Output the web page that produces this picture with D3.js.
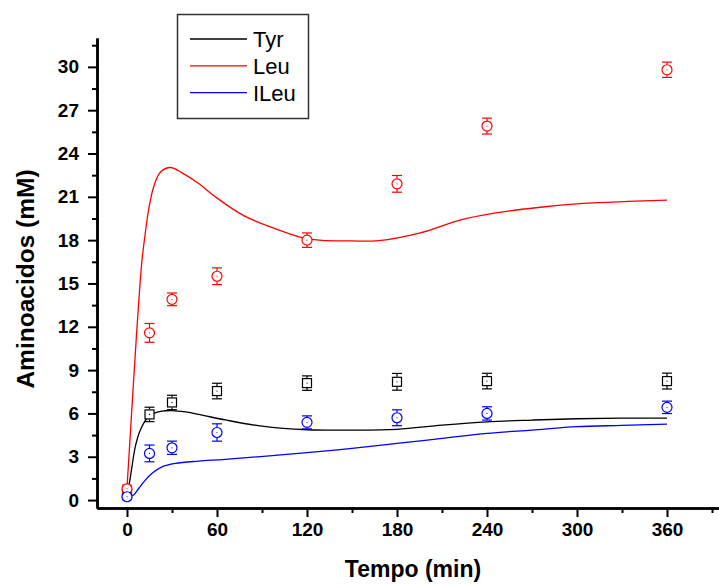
<!DOCTYPE html>
<html><head><meta charset="utf-8">
<script src="https://cdn.jsdelivr.net/npm/d3@7"></script>
<style>body{margin:0;background:#fff;} svg{display:block;}</style>
</head><body>
<script>
// ---- data ----
const times = [0, 15, 30, 60, 120, 180, 240, 360];
const tyrObs = [0.45, 5.93, 6.76, 7.55, 8.1, 8.19, 8.24, 8.24];
const tyrErr = [0.2, 0.5, 0.5, 0.54, 0.5, 0.58, 0.54, 0.55];
const leuObs = [0.78, 11.58, 13.9, 15.5, 18.0, 21.9, 25.9, 29.8];
const leuErr = [0.25, 0.65, 0.44, 0.58, 0.5, 0.58, 0.55, 0.53];
const ileuObs = [0.23, 3.23, 3.62, 4.68, 5.38, 5.7, 6.0, 6.42];
const ileuErr = [0.2, 0.58, 0.46, 0.6, 0.45, 0.55, 0.46, 0.43];

const leuFitT = [0, 2, 4, 6, 8, 10, 12.2, 14.4, 17.8, 22.2, 28.9, 36.7, 47.8, 58.9, 77.8, 100, 117.8, 130, 150, 166, 195.6, 222, 244, 274, 304, 334, 360];
const leuFitV = [0.85, 4.2, 7.6, 10.9, 14.0, 16.6, 18.5, 20.1, 21.7, 22.7, 23.03, 22.66, 21.92, 21.0, 19.7, 18.75, 18.15, 17.98, 17.95, 17.95, 18.51, 19.39, 19.85, 20.26, 20.54, 20.68, 20.77];
const tyrFitT = [0, 1.1, 3.3, 5.5, 8.9, 13.3, 17.8, 23.3, 30, 38.9, 50, 65.5, 90, 120, 150, 180, 210, 240, 270, 300, 330, 360];
const tyrFitV = [0.55, 0.92, 2.3, 3.69, 4.85, 5.65, 6.0, 6.16, 6.2, 6.1, 5.88, 5.55, 5.12, 4.87, 4.84, 4.9, 5.19, 5.42, 5.54, 5.63, 5.67, 5.68];
const ileuFitT = [0, 1.1, 4.4, 7.8, 12.2, 16.7, 23.3, 32.2, 47.8, 65.5, 120, 150, 180, 210, 240, 270, 300, 330, 360];
const ileuFitV = [0.2, 0.23, 0.35, 0.8, 1.38, 1.85, 2.3, 2.54, 2.7, 2.82, 3.28, 3.58, 3.92, 4.27, 4.62, 4.85, 5.08, 5.17, 5.26];

const xTicks = [0, 60, 120, 180, 240, 300, 360];
const xMinor = [30, 90, 150, 210, 270, 330, 390];
const yTicks = [0, 3, 6, 9, 12, 15, 18, 21, 24, 27, 30];
const yMinor = [1.5, 4.5, 7.5, 10.5, 13.5, 16.5, 19.5, 22.5, 25.5, 28.5, 31.5];
const seriesNames = ["Tyr", "Leu", "ILeu"];
const seriesColors = ["#000000", "#ff0000", "#0000ff"];

// ---- layout ----
const W = 719, H = 584;
const svg = d3.select("body").append("svg").attr("width", W).attr("height", H);
const x = d3.scaleLinear().domain([-20, 400]).range([97, 727]);
const y = d3.scaleLinear().domain([-0.55, 32]).range([508, 38]);

// axes
const gx = svg.append("g").attr("transform", `translate(0,${y(-0.55)})`);
gx.call(d3.axisBottom(x).tickValues(xTicks).tickSize(9).tickPadding(6).tickSizeOuter(0));
gx.append("g").call(d3.axisBottom(x).tickValues(xMinor).tickSize(5).tickFormat("").tickSizeOuter(0));
const gy = svg.append("g").attr("transform", `translate(${x(-20)},0)`);
gy.call(d3.axisLeft(y).tickValues(yTicks).tickSize(9).tickPadding(9).tickSizeOuter(0));
gy.append("g").call(d3.axisLeft(y).tickValues(yMinor).tickSize(5).tickFormat("").tickSizeOuter(0));
svg.selectAll(".domain").attr("stroke", "#000").attr("stroke-width", 2.5);
svg.selectAll(".tick line").attr("stroke", "#000").attr("stroke-width", 2);
svg.selectAll(".tick text").attr("fill", "#000")
  .style("font-family", "Arial, 'Liberation Sans', sans-serif")
  .style("font-weight", "bold").style("font-size", "19px");

// titles
svg.append("text").attr("x", 413).attr("y", 577).attr("text-anchor", "middle")
  .style("font-family", "Arial, 'Liberation Sans', sans-serif").style("font-weight", "bold")
  .style("font-size", "23px").text("Tempo (min)");
svg.append("text").attr("transform", "translate(34,279) rotate(-90)").attr("text-anchor", "middle")
  .style("font-family", "Arial, 'Liberation Sans', sans-serif").style("font-weight", "bold")
  .style("font-size", "24.5px").text("Aminoacidos (mM)");

// fit lines
const line = d3.line().x(d => x(d[0])).y(d => y(d[1])).curve(d3.curveCatmullRom.alpha(0.5));
const fits = [
  d3.zip(tyrFitT, tyrFitV),
  d3.zip(leuFitT, leuFitV),
  d3.zip(ileuFitT, ileuFitV)
];
fits.forEach((f, i) => {
  svg.append("path").datum(f).attr("d", line).attr("fill", "none")
    .attr("stroke", seriesColors[i]).attr("stroke-width", 1.3);
});

// observed points with error bars
const obs = [
  {vals: tyrObs, err: tyrErr, shape: "square"},
  {vals: leuObs, err: leuErr, shape: "circle"},
  {vals: ileuObs, err: ileuErr, shape: "circle"}
];
obs.forEach((s, i) => {
  const c = seriesColors[i];
  const g = svg.append("g").attr("stroke", c).attr("fill", "none").attr("stroke-width", 1.2);
  times.forEach((t, j) => {
    const cx = x(t), cy = y(s.vals[j]);
    const top = y(s.vals[j] + s.err[j]), bot = y(s.vals[j] - s.err[j]);
    const hs = 5;
    g.append("line").attr("x1", cx).attr("x2", cx).attr("y1", top).attr("y2", cy - hs);
    g.append("line").attr("x1", cx).attr("x2", cx).attr("y1", cy + hs).attr("y2", bot);
    g.append("line").attr("x1", cx - 5).attr("x2", cx + 5).attr("y1", top).attr("y2", top);
    g.append("line").attr("x1", cx - 5).attr("x2", cx + 5).attr("y1", bot).attr("y2", bot);
    if (s.shape === "square") {
      g.append("rect").attr("x", cx - 4.5).attr("y", cy - 4.5).attr("width", 9).attr("height", 9).attr("fill", "#fff");
    } else {
      g.append("circle").attr("cx", cx).attr("cy", cy).attr("r", 5).attr("fill", "#fff");
    }
    g.append("circle").attr("cx", cx).attr("cy", cy).attr("r", 0.6).attr("fill", c).attr("stroke", "none");
  });
});

// legend
const lg = svg.append("g");
lg.append("rect").attr("x", 177.5).attr("y", 14.5).attr("width", 131).attr("height", 104)
  .attr("fill", "#fff").attr("stroke", "#333").attr("stroke-width", 1.5);
seriesNames.forEach((n, i) => {
  const ly = 39 + i * 26.8;
  lg.append("line").attr("x1", 190).attr("x2", 247).attr("y1", ly).attr("y2", ly)
    .attr("stroke", seriesColors[i]).attr("stroke-width", 1.3);
  lg.append("text").attr("x", 253).attr("y", ly + 8).text(n)
    .style("font-family", "Arial, 'Liberation Sans', sans-serif").style("font-size", "22px").attr("fill", "#000");
});
</script>
</body></html>
